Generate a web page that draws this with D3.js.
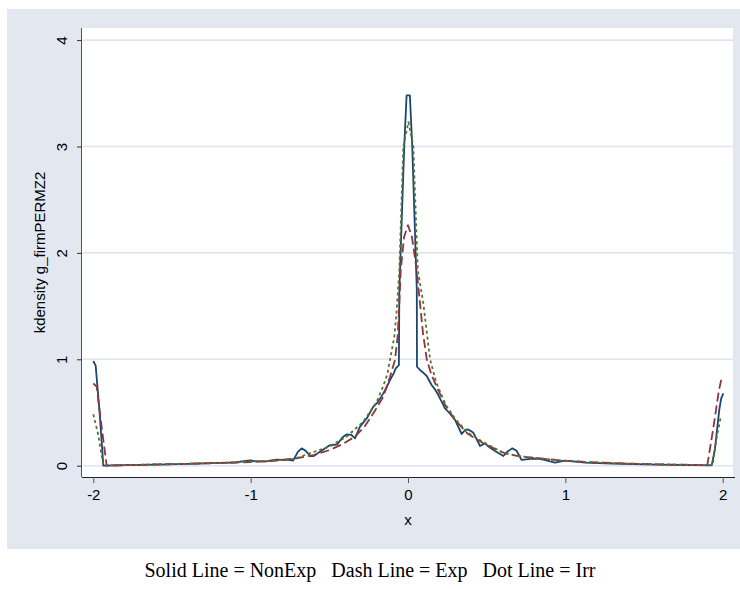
<!DOCTYPE html>
<html>
<head>
<meta charset="utf-8">
<script src="https://cdn.jsdelivr.net/npm/d3@7"></script>
<style>
  body { margin: 0; background: #ffffff; }
  svg { display: block; }
</style>
</head>
<body>
<svg id="chart" width="740" height="589"></svg>
<script>
// ---- data ----
const xTicks = [-2, -1, 0, 1, 2];
const yTicks = [0, 1, 2, 3, 4];
const xTitle = "x";
const yTitle = "kdensity g_firmPERMZ2";
const note = "Solid Line = NonExp   Dash Line = Exp   Dot Line = Irr";

const nonExpX = [-2.0,-1.985,-1.96,-1.936,-1.8,-1.6,-1.4,-1.2,-1.1,-1.03,-1.0,-0.97,-0.9,-0.84,-0.76,-0.73,-0.70,-0.676,-0.65,-0.62,-0.60,-0.55,-0.5,-0.45,-0.42,-0.39,-0.36,-0.337,-0.305,-0.26,-0.22,-0.19,-0.157,-0.135,-0.114,-0.09,-0.078,-0.058,-0.055,-0.024,-0.009,0.012,0.027,0.056,0.057,0.076,0.1,0.119,0.15,0.17,0.193,0.235,0.26,0.299,0.341,0.36,0.379,0.4,0.415,0.458,0.489,0.52,0.553,0.606,0.63,0.663,0.69,0.722,0.78,0.828,0.88,0.934,0.998,1.05,1.125,1.3,1.5,1.7,1.93,1.95,1.978,1.99,2.004];
const nonExpY = [0.984,0.94,0.5,0.0,0.005,0.01,0.018,0.027,0.03,0.045,0.05,0.04,0.04,0.058,0.055,0.048,0.13,0.163,0.14,0.09,0.09,0.14,0.19,0.2,0.26,0.295,0.29,0.257,0.367,0.45,0.555,0.6,0.68,0.74,0.805,0.87,0.915,0.946,1.65,3.0,3.48,3.48,3.0,1.65,0.93,0.9,0.87,0.843,0.758,0.72,0.664,0.539,0.5,0.43,0.298,0.33,0.342,0.325,0.31,0.185,0.21,0.17,0.138,0.091,0.13,0.163,0.14,0.054,0.065,0.066,0.05,0.028,0.047,0.04,0.028,0.02,0.013,0.007,0.003,0.15,0.523,0.63,0.68];

const expX = [-2.0,-1.978,-1.95,-1.915,-1.8,-1.6,-1.4,-1.2,-1.0,-0.85,-0.707,-0.6,-0.496,-0.42,-0.337,-0.28,-0.241,-0.2,-0.157,-0.114,-0.083,-0.066,-0.055,-0.046,-0.025,0.0,0.025,0.055,0.076,0.095,0.119,0.15,0.182,0.24,0.299,0.38,0.479,0.55,0.616,0.7,0.828,1.0,1.2,1.4,1.6,1.8,1.902,1.94,1.975,1.994];
const expY = [0.774,0.74,0.4,0.0,0.005,0.012,0.018,0.025,0.035,0.045,0.07,0.1,0.148,0.2,0.273,0.36,0.445,0.54,0.648,0.836,0.993,1.21,1.53,1.84,2.15,2.26,2.15,1.84,1.53,1.25,1.0,0.85,0.743,0.56,0.43,0.3,0.21,0.16,0.117,0.09,0.07,0.045,0.03,0.02,0.012,0.008,0.005,0.35,0.7,0.83];

const irrX = [-2.0,-1.97,-1.936,-1.8,-1.6,-1.4,-1.2,-1.0,-0.85,-0.72,-0.623,-0.5,-0.39,-0.284,-0.199,-0.157,-0.131,-0.114,-0.087,-0.072,-0.055,-0.03,0.003,0.034,0.062,0.097,0.14,0.18,0.24,0.3,0.38,0.48,0.6,0.7,0.83,1.0,1.2,1.4,1.6,1.8,1.936,1.96,1.987];
const irrY = [0.483,0.3,0.0,0.006,0.012,0.018,0.025,0.038,0.05,0.065,0.117,0.18,0.273,0.414,0.6,0.75,0.86,1.0,1.21,1.46,1.84,3.0,3.23,3.0,1.84,1.53,1.0,0.78,0.57,0.44,0.31,0.22,0.125,0.09,0.07,0.045,0.03,0.02,0.012,0.008,0.005,0.25,0.455];

const seriesNames = ["NonExp", "Exp", "Irr"];
const seriesX = [nonExpX, expX, irrX];
const seriesY = [nonExpY, expY, irrY];
const seriesColor = ["#1a476f", "#90353b", "#55752f"];
const seriesDash = [null, "9,4", "3,3"];

// ---- layout ----
const svg = d3.select("#chart");
const bg = "#e2e7f0";
const plot = { left: 82, right: 733, top: 28, bottom: 477 };

svg.append("rect").attr("x", 7).attr("y", 9).attr("width", 733).attr("height", 540).attr("fill", bg);
svg.append("rect").attr("x", plot.left).attr("y", plot.top)
   .attr("width", plot.right - plot.left).attr("height", plot.bottom - plot.top).attr("fill", "#ffffff");

const x = d3.scaleLinear().domain([-2, 2]).range([93.3, 722.7]);
const y = d3.scaleLinear().domain([0, 4]).range([465.7, 40.1]);

// gridlines
svg.append("g").selectAll("line").data(yTicks).join("line")
  .attr("x1", plot.left + 1).attr("x2", plot.right)
  .attr("y1", d => y(d)).attr("y2", d => y(d))
  .attr("stroke", "#dfe4ee").attr("stroke-width", 1.6);

// lines
const line = d3.line().x(d => x(d[0])).y(d => y(d[1]));
seriesNames.forEach((name, i) => {
  const pts = seriesX[i].map((v, j) => [v, seriesY[i][j]]);
  svg.append("path").datum(pts)
    .attr("d", line)
    .attr("fill", "none")
    .attr("stroke", seriesColor[i])
    .attr("stroke-width", 1.8)
    .attr("stroke-linejoin", "round")
    .attr("stroke-dasharray", seriesDash[i]);
});

// axes
const fmt = d => String(d);
const xAxis = d3.axisBottom(x).tickValues(xTicks).tickSize(6).tickPadding(6).tickFormat(fmt);
const gx = svg.append("g").attr("transform", `translate(0,${plot.bottom})`).call(xAxis);
gx.select(".domain").attr("d", `M${plot.left},0.5H${plot.right + 2}`).attr("stroke", "#222");
gx.selectAll(".tick line").attr("stroke", "#555");
gx.selectAll("text").attr("font-family", "Liberation Sans, Arial, sans-serif").attr("font-size", 15).attr("fill", "#000");

const yAxis = d3.axisLeft(y).tickValues(yTicks).tickSize(5).tickFormat(fmt);
const gy = svg.append("g").attr("transform", `translate(${plot.left},0)`).call(yAxis);
gy.select(".domain").attr("d", `M-0.5,${plot.top}V${plot.bottom}`).attr("stroke", "#555");
gy.selectAll(".tick line").attr("stroke", "#333");
gy.selectAll(".tick text")
  .attr("x", 0).attr("y", 0).attr("dy", 0)
  .attr("text-anchor", "middle")
  .attr("transform", "translate(-15,0) rotate(-90)")
  .attr("font-family", "Liberation Sans, Arial, sans-serif").attr("font-size", 15).attr("fill", "#000");

// titles
svg.append("text").attr("x", x(0)).attr("y", 525).attr("text-anchor", "middle")
  .attr("font-family", "Liberation Sans, Arial, sans-serif").attr("font-size", 15).text(xTitle);
svg.append("text").attr("transform", `translate(45,${(plot.top + plot.bottom) / 2}) rotate(-90)`)
  .attr("text-anchor", "middle")
  .attr("font-family", "Liberation Sans, Arial, sans-serif").attr("font-size", 15).text(yTitle);

// note
svg.append("text").attr("x", 370).attr("y", 577).attr("text-anchor", "middle")
  .attr("font-family", "Liberation Serif, Times New Roman, serif").attr("font-size", 20)
  .style("white-space", "pre").attr("xml:space", "preserve").text(note);
</script>
</body>
</html>
